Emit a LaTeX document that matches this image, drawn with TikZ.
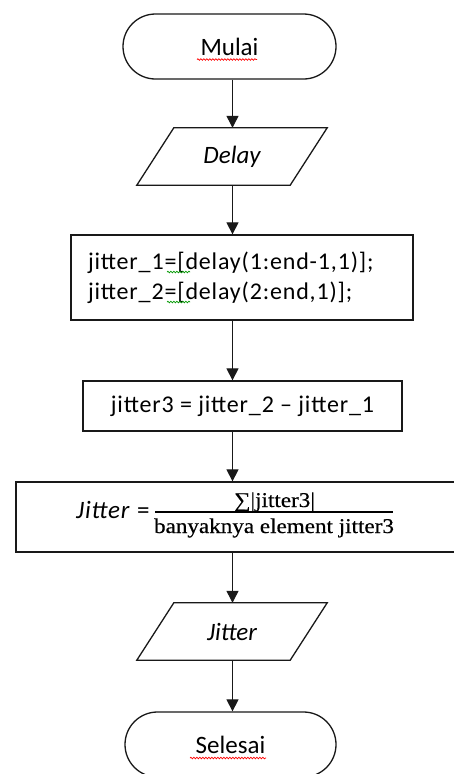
\documentclass[tikz,border=0pt]{standalone}
\usepackage{fontspec}
\setmainfont{Carlito}
\newfontfamily\fracfont{Liberation Serif}[FakeStretch=1.1,FakeBold=0.5]
\newfontfamily\codefont{Carlito}[Ligatures=TeX,LetterSpace=3.5]
\usetikzlibrary{arrows.meta,decorations.pathmorphing}

\tikzset{
  flowline/.style={line width=1.3pt, draw=black!90},
  terminal/.style={flowline, rectangle, rounded corners=32.5pt, minimum width=213pt,
    minimum height=65pt, inner sep=0pt, font=\fontsize{25}{30}\selectfont},
  iobox/.style={rectangle, minimum width=190pt, minimum height=57pt, inner sep=0pt,
    font=\fontsize{25}{30}\selectfont\itshape},
  procbox/.style={flowline, rectangle, inner sep=0pt, font=\codefont\fontsize{24}{30}\selectfont},
  flowarrow/.style={flowline, line width=1.2pt, -{Triangle[length=12pt,width=12pt]}},
  spellmark/.style={decorate, decoration={snake, amplitude=0.8pt, segment length=3pt},
    line width=0.7pt},
  fracpart/.style={inner sep=0pt, font=\fracfont\fontsize{21}{25}\selectfont},
}

\begin{document}
\begin{tikzpicture}[x=1pt,y=1pt]
  \useasboundingbox (0,0) rectangle (454,-774);
  \clip (0,0) rectangle (454,-774);
  \fill[white] (0,0) rectangle (454,-774);

  % vertical flow axis shared by all connectors
  \coordinate (axis) at (232.5,0);

  % start
  \node[terminal] (start) at (229.5,-46.5) {\raisebox{-2pt}{Mulai}};

  % input: Delay
  \node[iobox] (input) at (232,-156.5) {Delay};
  \draw[flowline] ([xshift=37pt]input.north west) -- (input.north east)
    -- ([xshift=-37pt]input.south east) -- (input.south west) -- cycle;

  % differences of consecutive delays
  \node[procbox, minimum width=342pt, minimum height=85pt, text width=308pt, align=left]
    (diff) at (242,-277.5) {jitter\_1=[delay(1:end-1,1)];\\jitter\_2=[delay(2:end,1)];};

  % subtraction
  \node[procbox, minimum width=319pt, minimum height=50pt]
    (sub) at (242.5,-406) {jitter3 = jitter\_2 – jitter\_1};

  % mean of absolute differences
  \node[procbox, minimum width=452pt, minimum height=70pt] (avg) at (242,-517) {};
  \node[anchor=base west, inner sep=0pt, font=\codefont\fontsize{25}{30}\selectfont]
    (lhs) at (76,-518) {\textit{Jitter} =};
  \node[fracpart, anchor=base] (num) at (274.5,-507) {∑|jitter3|};
  \node[fracpart, anchor=base] (den) at (274,-533) {banyaknya element jitter3};
  \draw[line width=1.2pt] (155,-512) -- (393,-512);

  % output: Jitter
  \node[iobox] (output) at (232,-631.5) {Jitter};
  \draw[flowline] ([xshift=37pt]output.north west) -- (output.north east)
    -- ([xshift=-37pt]output.south east) -- (output.south west) -- cycle;

  % end
  \node[terminal, minimum width=211pt] (stop) at (230.5,-744.5) {Selesai};

  % connectors
  \draw[flowarrow] (start.south -| axis) -- (input.north -| axis);
  \draw[flowarrow] (input.south -| axis) -- (diff.north -| axis);
  \draw[flowarrow] (diff.south -| axis) -- (sub.north -| axis);
  \draw[flowarrow] (sub.south -| axis) -- (avg.north -| axis);
  \draw[flowarrow] (avg.south -| axis) -- (output.north -| axis);
  \draw[flowarrow] (output.south -| axis) -- (stop.north -| axis);

  % proofing marks
  \draw[spellmark, red] (197,-59.5) -- (257,-59.5);
  \draw[spellmark, red] (190,-758) -- (266,-758);
  \draw[spellmark, green!60!black] (167,-272) -- (190,-272);
  \draw[spellmark, green!60!black] (167,-302) -- (190,-302);
\end{tikzpicture}
\end{document}
